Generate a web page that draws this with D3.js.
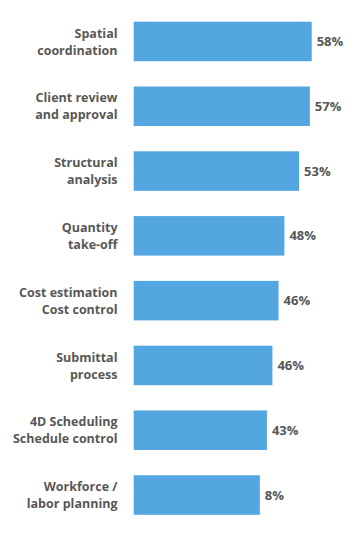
<!DOCTYPE html>
<html>
<head>
<meta charset="utf-8">
<script src="https://cdn.jsdelivr.net/npm/d3@7"></script>
<style>
  html, body { margin: 0; padding: 0; background: #ffffff; }
  svg { display: block; }
</style>
</head>
<body>
<svg id="chart" width="360" height="544"></svg>
<script>
// Category labels (each split into two lines)
const categories = [
  ["Spatial", "coordination"],
  ["Client review", "and approval"],
  ["Structural", "analysis"],
  ["Quantity", "take-off"],
  ["Cost estimation", "Cost control"],
  ["Submittal", "process"],
  ["4D Scheduling", "Schedule control"],
  ["Workforce /", "labor planning"]
];
// Percent values printed next to the bars
const values = [58, 57, 53, 48, 46, 46, 43, 8];
// Bar lengths as drawn in the picture (same units as the percentages)
const barValues = [58, 57.4, 53.9, 49.1, 47.2, 45.2, 43.4, 41.1];

const svg = d3.select("#chart");
const keys = categories.map(c => c.join(" "));

const x = d3.scaleLinear().domain([0, 58]).range([133.7, 311.7]);
const y = d3.scaleBand().domain(keys).range([21.7, 514.8]).paddingInner(0.39).paddingOuter(0);

const barColor = "#53a6df";
const textColor = "#575757";
const font = "'Open Sans', sans-serif";

const g = svg.append("g");

g.selectAll("rect.bar")
  .data(keys)
  .join("rect")
  .attr("class", "bar")
  .attr("x", x(0))
  .attr("y", k => y(k))
  .attr("width", (k, i) => x(barValues[i]) - x(0))
  .attr("height", y.bandwidth())
  .attr("fill", barColor);

g.selectAll("text.val")
  .data(keys)
  .join("text")
  .attr("class", "val")
  .attr("x", (k, i) => x(barValues[i]) + 5)
  .attr("y", k => y(k) + y.bandwidth() / 2)
  .attr("dy", "0.35em")
  .attr("font-family", font)
  .attr("font-weight", 700)
  .attr("font-size", 13)
  .attr("fill", textColor)
  .text((k, i) => values[i] + "%");

const labels = g.selectAll("text.cat")
  .data(categories)
  .join("text")
  .attr("class", "cat")
  .attr("text-anchor", "end")
  .attr("font-family", font)
  .attr("font-weight", 700)
  .attr("font-size", 12.5)
  .attr("fill", textColor)
  .attr("transform", (c, i) => `translate(117.5, ${y(keys[i]) + y.bandwidth() / 2})`);

labels.selectAll("tspan")
  .data(c => c)
  .join("tspan")
  .attr("x", 0)
  .attr("y", (d, j) => j === 0 ? -3.8 : 13.2)
  .text(d => d);
</script>
</body>
</html>
